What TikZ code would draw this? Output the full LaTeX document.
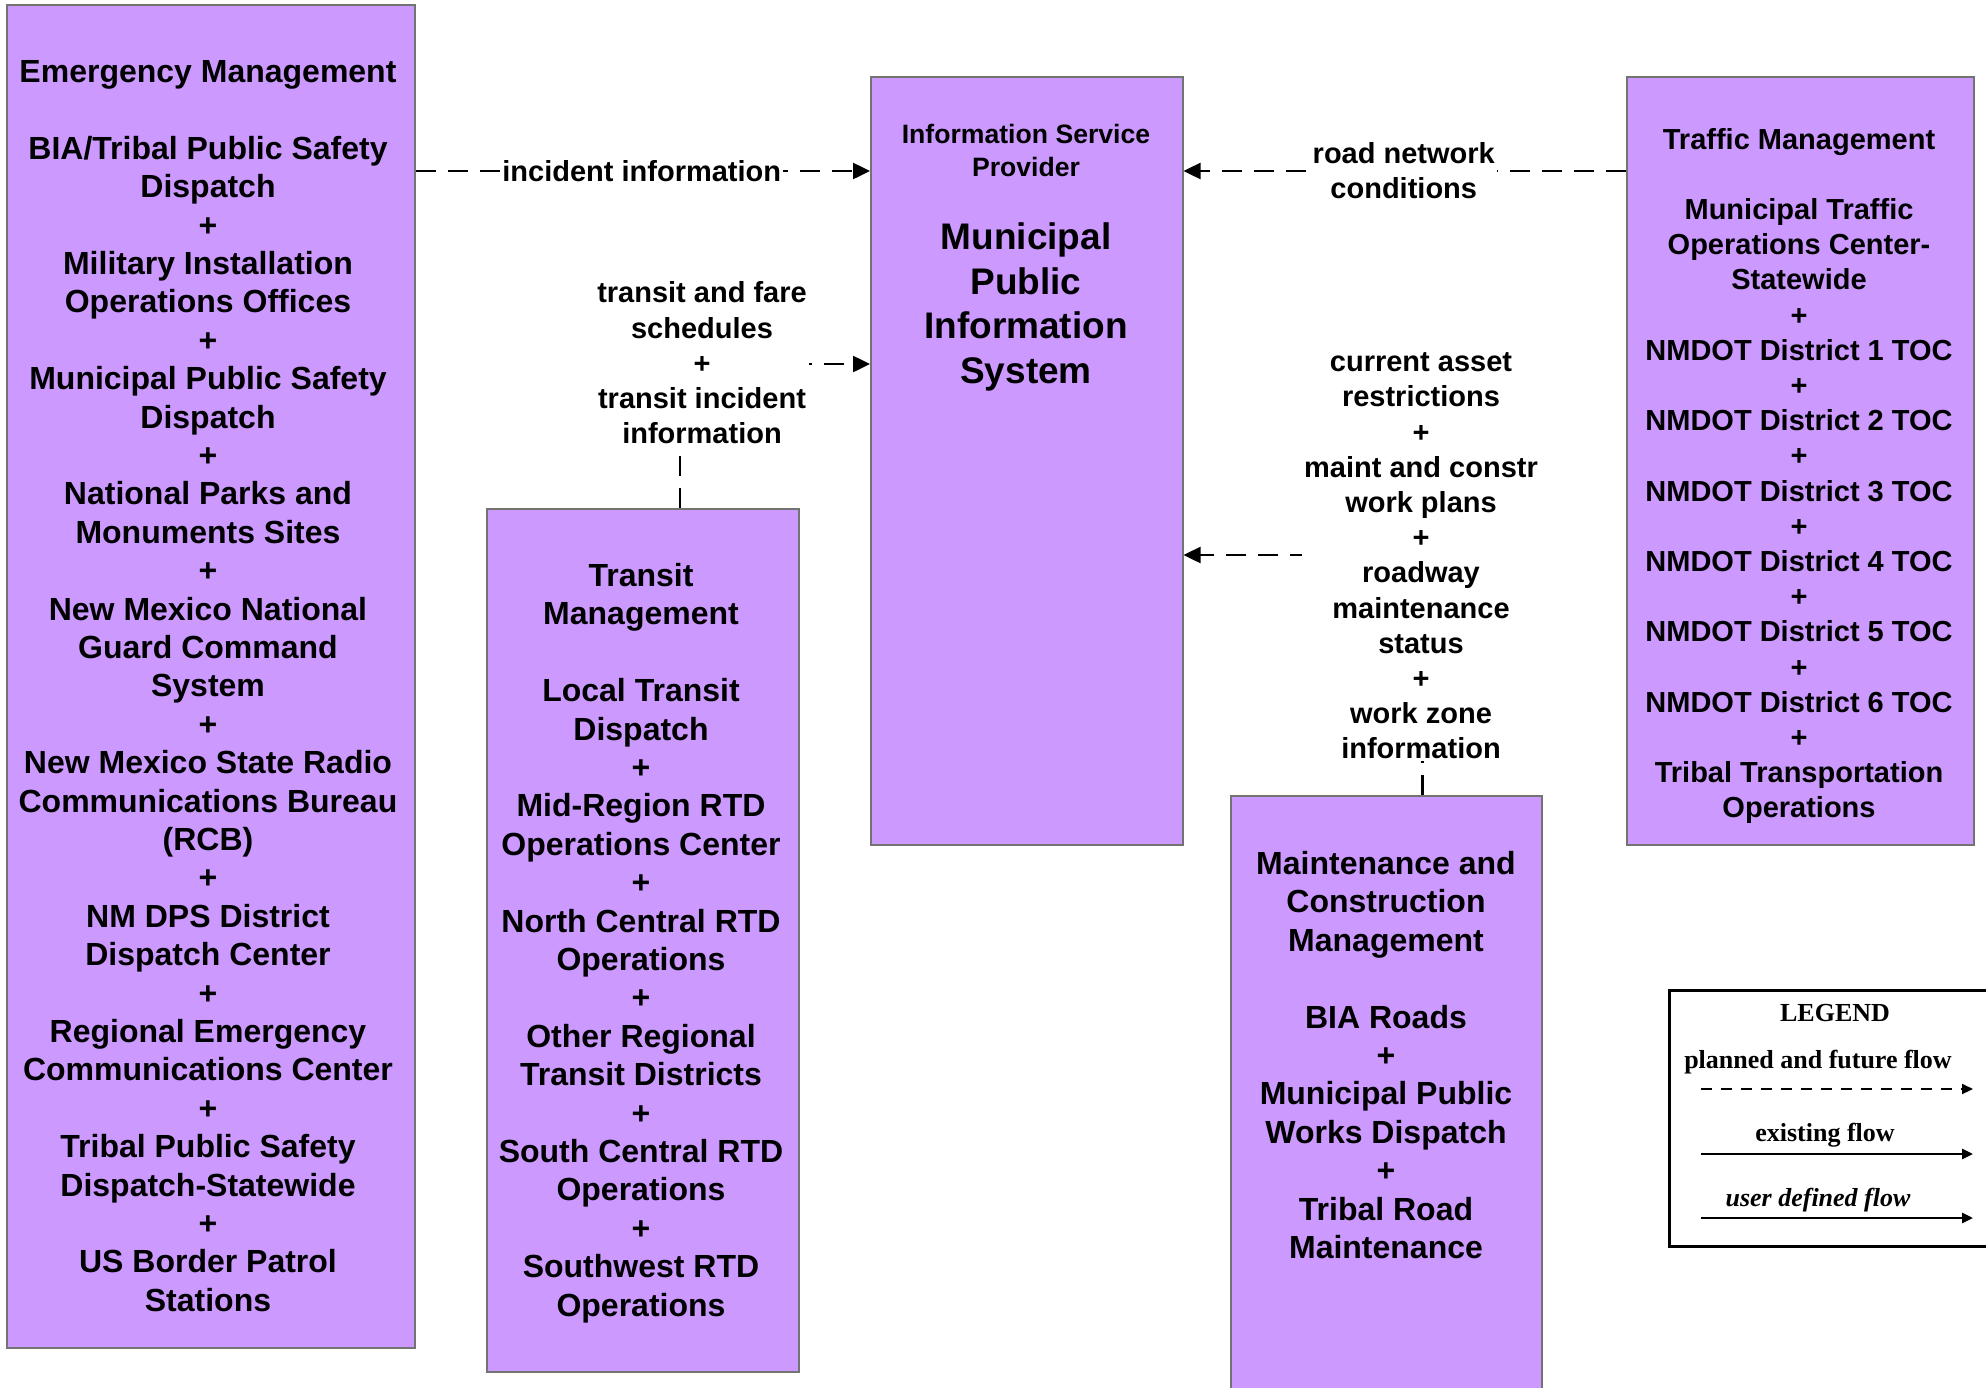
\documentclass[tikz,border=0pt]{standalone}
\usepackage{fontspec}
\setmainfont{Liberation Sans}
\newfontfamily\legendfont{Liberation Serif}
\usetikzlibrary{arrows.meta}
\definecolor{boxpurple}{HTML}{CC99FF}

\begin{document}
\begin{tikzpicture}[x=1pt,y=-1pt,
    entity/.style={draw=black!55,line width=1.5pt,fill=boxpurple,anchor=north west,inner sep=0pt},
    bigtext/.style={align=center,inner sep=0pt,font=\fontsize{32}{38.4}\selectfont\bfseries},
    midtext/.style={align=center,inner sep=0pt,font=\fontsize{29}{35.2}\selectfont\bfseries},
    flowlbl/.style={midtext,fill=white,inner sep=2pt},
    flow/.style={line width=2.5pt,dash pattern=on 20pt off 12pt,-{Triangle[length=17pt,width=16pt]}}]
  \useasboundingbox (0,0) rectangle (1986,1387);

  % boxes
  \node[entity,minimum width=408pt,minimum height=1343pt] (em) at (6,4) {};
  \node[entity,minimum width=312pt,minimum height=863pt] (trn) at (486,508) {};
  \node[entity,minimum width=312pt,minimum height=768pt] (isp) at (870,76) {};
  \node[entity,minimum width=311pt,minimum height=620pt] (mcm) at (1230,795) {};
  \node[entity,minimum width=347pt,minimum height=768pt] (tm) at (1626,76) {};

  % box texts
  \node[bigtext] (emtxt) at (208,686) {Emergency Management\\[38.4pt]
    BIA/Tribal Public Safety\\Dispatch\\+\\Military Installation\\Operations Offices\\+\\
    Municipal Public Safety\\Dispatch\\+\\National Parks and\\Monuments Sites\\+\\
    New Mexico National\\Guard Command\\System\\+\\New Mexico State Radio\\
    Communications Bureau\\(RCB)\\+\\NM DPS District\\Dispatch Center\\+\\
    Regional Emergency\\Communications Center\\+\\Tribal Public Safety\\
    Dispatch-Statewide\\+\\US Border Patrol\\Stations};
  \node[bigtext] (trntxt) at (641,943) {Transit\\Management\\[38.4pt]
    Local Transit\\Dispatch\\+\\Mid-Region RTD\\Operations Center\\+\\
    North Central RTD\\Operations\\+\\Other Regional\\Transit Districts\\+\\
    South Central RTD\\Operations\\+\\Southwest RTD\\Operations};
  \node[align=center,inner sep=0pt,font=\fontsize{26.6}{33}\selectfont\bfseries] (ispname) at (1026,150)
    {Information Service\\Provider};
  \node[align=center,inner sep=0pt,font=\fontsize{37}{44.7}\selectfont\bfseries] (isptitle) at (1026,307)
    {Municipal\\Public\\Information\\System};
  \node[bigtext] (mcmtxt) at (1386,1055) {Maintenance and\\Construction\\Management\\[38.4pt]
    BIA Roads\\+\\Municipal Public\\Works Dispatch\\+\\Tribal Road\\Maintenance};
  \node[midtext] (tmtxt) at (1799,476) {Traffic Management\\[35.2pt]
    Municipal Traffic\\Operations Center-\\Statewide\\+\\NMDOT District 1 TOC\\+\\
    NMDOT District 2 TOC\\+\\NMDOT District 3 TOC\\+\\NMDOT District 4 TOC\\+\\
    NMDOT District 5 TOC\\+\\NMDOT District 6 TOC\\+\\Tribal Transportation\\Operations};

  % flows
  \draw[flow] (em.east |- 0,171) -- (isp.west |- 0,171)
    node[flowlbl,pos=0.5,xshift=-1pt] (incident) {incident information};
  \draw[flow] (tm.west |- 0,171) -- (isp.east |- 0,171)
    node[flowlbl,pos=0.5,xshift=-1pt] (roadnet) {road network\\conditions};
  \draw[flow] ([xshift=37pt]trn.north) |- (isp.west |- 0,364);
  \node[flowlbl] (transitlbl) at (702,363) {transit and fare\\schedules\\+\\transit incident\\information};
  \draw[flow] ([xshift=36pt]mcm.north) |- (isp.east |- 0,555);
  \node[flowlbl] (maintlbl) at (1421,556) {current asset\\restrictions\\+\\maint and constr\\work plans\\+\\
    roadway\\maintenance\\status\\+\\work zone\\information};

  % legend
  \node[draw,line width=3pt,anchor=north west,minimum width=330pt,minimum height=256pt] (legend) at (1668,989) {};
  \begin{scope}[font=\fontsize{26}{30}\selectfont\legendfont\bfseries,inner sep=0pt]
    \node (lgtitle) at (1835,1013) {LEGEND};
    \node (lgplan) at (1818,1062) {planned and future flow};
    \node (lgexist) at (1825,1135) {existing flow};
    \node (lguser) at (1818,1200) {\itshape user defined flow};
  \end{scope}
  \coordinate (p1) at (1701,1089);
  \coordinate (p2) at (1973,1089);
  \coordinate (e1) at (1701,1154);
  \coordinate (e2) at (1973,1154);
  \coordinate (u1) at (1701,1218);
  \coordinate (u2) at (1973,1218);
  \draw[line width=2pt,dash pattern=on 11pt off 9pt,-{Triangle[length=11pt,width=10pt]}] (p1) -- (p2);
  \draw[line width=2.6pt,-{Triangle[length=11pt,width=10pt]}] (e1) -- (e2);
  \draw[line width=2.6pt,-{Triangle[length=11pt,width=10pt]}] (u1) -- (u2);
\end{tikzpicture}
\end{document}
